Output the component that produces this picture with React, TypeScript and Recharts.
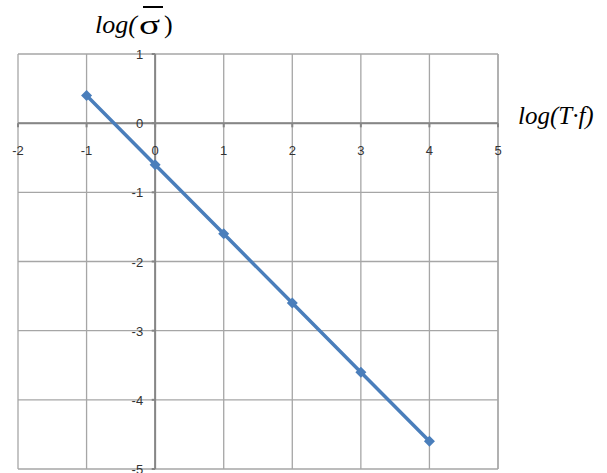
import React from 'react';
import { ScatterChart, Scatter, XAxis, YAxis, ZAxis, CartesianGrid, ReferenceLine, ReferenceDot } from 'recharts';

const logTf = [-1, 0, 1, 2, 3, 4];
const logSigma = [0.4, -0.6, -1.6, -2.6, -3.6, -4.6];
const xTicks = [-2, -1, 0, 1, 2, 3, 4, 5];
const yTicks = [-5, -4, -3, -2, -1, 0, 1];

const points = logTf.map((x, i) => ({ x, y: logSigma[i] }));

const AXIS = '#868686';
const GRID = '#a6a6a6';
const BLUE = '#4a7ebb';

const Diamond = (props: any) => {
  const { cx, cy } = props;
  const r = 5.5;
  return <polygon points={`${cx},${cy - r} ${cx + r},${cy} ${cx},${cy + r} ${cx - r},${cy}`} fill={BLUE} />;
};

// tick text placed next to the point the ReferenceDot gives
const TickLabel = (props: any) => {
  const { viewBox, value, side } = props;
  const px = viewBox.x + viewBox.width / 2;
  const py = viewBox.y + viewBox.height / 2;
  const common = { fontFamily: 'Liberation Sans, Arial, sans-serif', fontSize: 13, fill: '#333' };
  if (side === 'bottom') {
    return (
      <text x={px} y={py + 32} textAnchor="middle" {...common}>
        {value}
      </text>
    );
  }
  return (
    <text x={px - 12} y={py + 5} textAnchor="end" {...common}>
      {value}
    </text>
  );
};

const serif = 'Liberation Serif, Times New Roman, serif';

const App: React.FC = () => {
  return (
    <div style={{ position: 'absolute', left: 0, top: 0, width: 607, height: 473, background: '#fff' }}>
      <ScatterChart width={607} height={473} margin={{ top: 54, right: 109, bottom: 4, left: 18 }}>
        <CartesianGrid stroke={GRID} strokeWidth={1.3} horizontalValues={yTicks} verticalValues={xTicks} />
        <XAxis type="number" dataKey="x" domain={[-2, 5]} ticks={xTicks} hide />
        <YAxis type="number" dataKey="y" domain={[-5, 1]} ticks={yTicks} hide />
        <ZAxis range={[60, 60]} />
        <ReferenceLine x={5} stroke={GRID} strokeWidth={1.3} />
        <ReferenceLine y={-5} stroke={GRID} strokeWidth={1.3} />
        <ReferenceLine y={0} stroke={AXIS} strokeWidth={2} />
        <ReferenceLine x={0} stroke={AXIS} strokeWidth={2} />
        {xTicks.map((v) => (
          <ReferenceLine key={'xt' + v} segment={[{ x: v, y: 0 }, { x: v, y: -0.06 }]} stroke={AXIS} strokeWidth={2} />
        ))}
        {yTicks.map((v) => (
          <ReferenceLine key={'yt' + v} segment={[{ x: 0, y: v }, { x: -0.05, y: v }]} stroke={AXIS} strokeWidth={2} />
        ))}
        {xTicks.map((v) => (
          <ReferenceDot key={'xl' + v} x={v} y={0} r={0} fill="none" stroke="none" label={<TickLabel value={String(v)} side="bottom" />} />
        ))}
        {yTicks.map((v) => (
          <ReferenceDot key={'yl' + v} x={0} y={v} r={0} fill="none" stroke="none" label={<TickLabel value={String(v)} side="left" />} />
        ))}
        <Scatter
          data={points}
          fill={BLUE}
          line={{ stroke: BLUE, strokeWidth: 3.5 }}
          lineType="joint"
          shape={<Diamond />}
          isAnimationActive={false}
        />
      </ScatterChart>
      <div style={{ position: 'absolute', left: 95, top: 12, fontFamily: serif, fontStyle: 'italic', fontSize: 26, lineHeight: '26px', color: '#000', whiteSpace: 'nowrap' }}>
        log(
      </div>
      <div style={{ position: 'absolute', left: 139, top: 12, fontFamily: serif, fontSize: 27, lineHeight: '26px', color: '#000', transform: 'scaleX(1.45)', transformOrigin: 'left top' }}>
        σ
      </div>
      <div style={{ position: 'absolute', left: 143, top: 6, width: 20, height: 2, background: '#000' }} />
      <div style={{ position: 'absolute', left: 164, top: 12, fontFamily: serif, fontSize: 26, lineHeight: '26px', color: '#000' }}>
        )
      </div>
      <div style={{ position: 'absolute', left: 518, top: 101, fontFamily: serif, fontStyle: 'italic', fontSize: 25, lineHeight: '30px', color: '#000', whiteSpace: 'nowrap' }}>
        log(T·f)
      </div>
    </div>
  );
};

export default App;
